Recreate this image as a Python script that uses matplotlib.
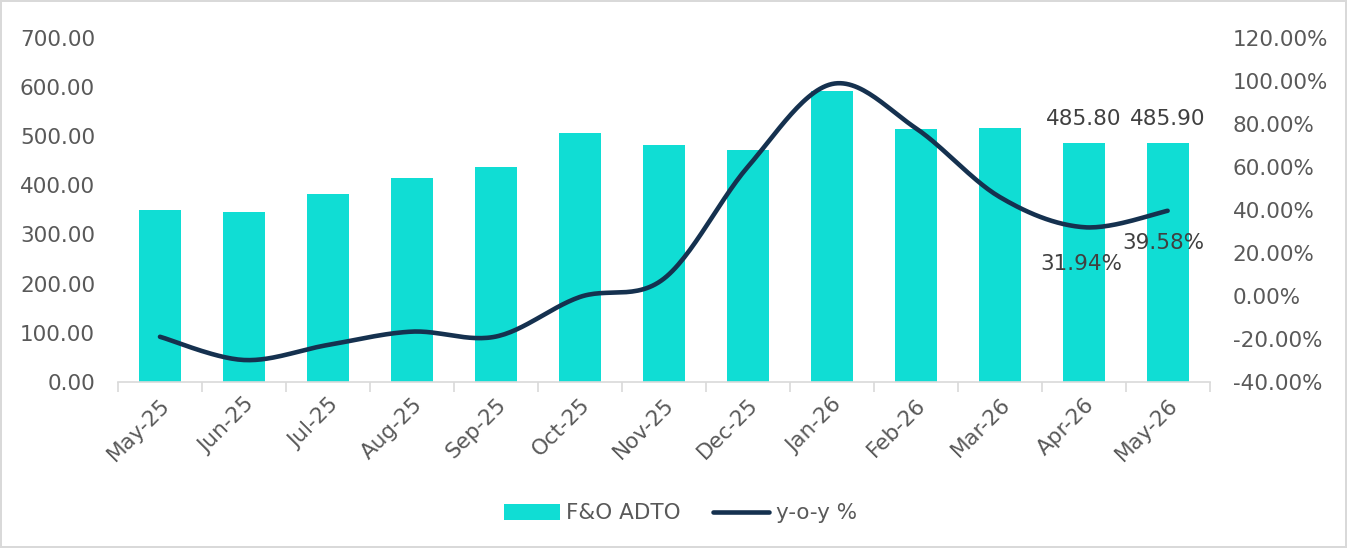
import numpy as np
import matplotlib
matplotlib.use('Agg')
import matplotlib.pyplot as plt
from matplotlib.ticker import FuncFormatter, FixedLocator

# Data
months = ['May-25', 'Jun-25', 'Jul-25', 'Aug-25', 'Sep-25', 'Oct-25', 'Nov-25',
          'Dec-25', 'Jan-26', 'Feb-26', 'Mar-26', 'Apr-26', 'May-26']
adto = [350.0, 346.6, 382.0, 415.8, 437.0, 506.7, 481.6,
        472.7, 592.8, 514.8, 516.9, 485.80, 485.90]
yoy = [-19.0, -29.8, -22.8, -16.6, -18.9, -0.5, 8.0,
       60.0, 98.5, 78.0, 46.0, 31.94, 39.58]

bar_color = '#10DDD4'
line_color = '#15314F'
text_color = '#595959'
label_color = '#404040'

plt.rcParams['font.family'] = ['DejaVu Sans']

fig = plt.figure(figsize=(13.47, 5.48), dpi=100)
fig.patch.set_edgecolor('#D9D9D9')
fig.patch.set_linewidth(1.5)
ax = fig.add_axes([0.0876, 0.303, 0.8104, 0.628])
ax2 = ax.twinx()

x = np.arange(len(months))
ax.bar(x, adto, width=0.5, color=bar_color, zorder=2, label='F&O ADTO')

ax.set_xlim(-0.5, len(months) - 0.5)
ax.set_ylim(0, 700)
ax.set_yticks(np.arange(0, 701, 100))
ax.yaxis.set_major_formatter(FuncFormatter(lambda v, p: f'{v:.2f}'))
ax2.set_ylim(-40, 120)
ax2.set_yticks(np.arange(-40, 121, 20))
ax2.yaxis.set_major_formatter(FuncFormatter(lambda v, p: f'{v:.2f}%'))

# Smoothed line (Excel-style Bezier through the data points, in screen-like units)
sx, sy = 84.4, 2.15
px = x * sx
py = np.array(yoy) * sy
n = len(px)
curve_x, curve_y = [], []
t = np.linspace(0, 1, 30)
for i in range(n - 1):
    p0 = np.array([px[max(i - 1, 0)], py[max(i - 1, 0)]])
    p1 = np.array([px[i], py[i]])
    p2 = np.array([px[i + 1], py[i + 1]])
    p3 = np.array([px[min(i + 2, n - 1)], py[min(i + 2, n - 1)]])
    c1 = p1 + (p2 - p0) / 6
    c2 = p2 - (p3 - p1) / 6
    seg = ((1 - t) ** 3)[:, None] * p1 + (3 * (1 - t) ** 2 * t)[:, None] * c1 \
        + (3 * (1 - t) * t ** 2)[:, None] * c2 + (t ** 3)[:, None] * p2
    curve_x.extend(seg[:, 0] / sx)
    curve_y.extend(seg[:, 1] / sy)
ax2.plot(curve_x, curve_y, color=line_color, linewidth=3.3,
         solid_capstyle='round', zorder=3)
ax2.plot([], [], color=line_color, linewidth=3.3, solid_capstyle='round', label='y-o-y %')

# Data labels on last two points
for i in [11, 12]:
    ax.annotate(f'{adto[i]:.2f}', (x[i], adto[i]), xytext=(0, 10),
                textcoords='offset points', ha='center', va='bottom',
                fontsize=15.5, color=label_color)
ax2.annotate(f'{yoy[11]:.2f}%', (x[11], yoy[11]), xytext=(-2, -19),
             textcoords='offset points', ha='center', va='top',
             fontsize=15.5, color=label_color)
ax2.annotate(f'{yoy[12]:.2f}%', (x[12], yoy[12]), xytext=(-3, -16),
             textcoords='offset points', ha='center', va='top',
             fontsize=15.5, color=label_color)

# Axes styling
for a in (ax, ax2):
    for s in a.spines.values():
        s.set_visible(False)
ax.spines['bottom'].set_visible(True)
ax.spines['bottom'].set_color('#D9D9D9')
ax.spines['bottom'].set_linewidth(1.2)

ax.set_xticks(x)
ax.set_xticklabels(months, rotation=45, ha='right', rotation_mode='anchor')
ax.xaxis.set_minor_locator(FixedLocator(np.arange(-0.5, len(months), 1)))
ax.tick_params(axis='x', which='major', length=0, pad=9, labelsize=15.5, labelcolor=text_color)
ax.tick_params(axis='x', which='minor', length=7, color='#D9D9D9', width=1.2)
ax.tick_params(axis='y', length=0, pad=16.5, labelsize=15.5, labelcolor=text_color)
ax2.tick_params(axis='y', length=0, pad=16.5, labelsize=15.5, labelcolor=text_color)

h1, l1 = ax.get_legend_handles_labels()
h2, l2 = ax2.get_legend_handles_labels()
fig.legend(h1 + h2, l1 + l2, loc='center', bbox_to_anchor=(0.505, 0.063),
           ncol=2, frameon=False, fontsize=15.5, labelcolor=text_color,
           handlelength=2.6, handleheight=0.8, columnspacing=1.5, handletextpad=0.3)

fig.savefig('out.png', dpi=100)
